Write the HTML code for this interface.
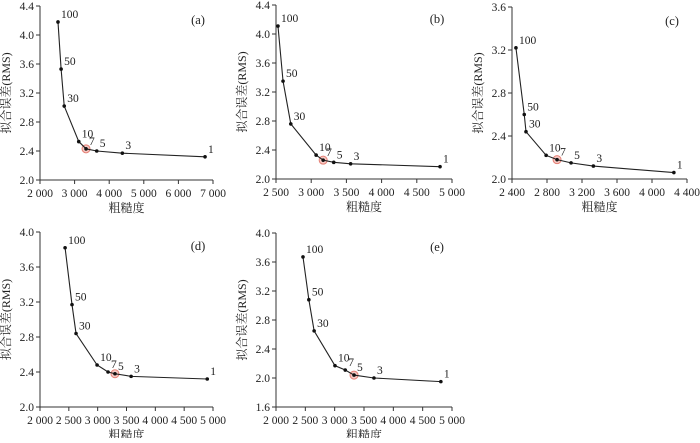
<!DOCTYPE html>
<html><head><meta charset="utf-8"><style>
body{margin:0;background:#fff}
svg text{font-family:"Liberation Serif","Noto Serif CJK SC",serif;fill:#222}
</style></head><body>
<svg id="c" width="700" height="438" xmlns="http://www.w3.org/2000/svg"></svg>
<script>
const pointLabels=["100","50","30","10","7","5","3","1"];
const xA=[2520,2610,2700,3120,3330,3640,4380,6770];
const yA=[4.18,3.53,3.02,2.53,2.43,2.40,2.37,2.32];
const xB=[2528,2600,2710,3070,3170,3320,3560,4830];
const yB=[4.11,3.35,2.76,2.33,2.26,2.23,2.21,2.17];
const xC=[2445,2540,2560,2790,2915,3075,3330,4250];
const yC=[3.22,2.60,2.44,2.22,2.18,2.15,2.12,2.06];
const xD=[2435,2555,2625,2990,3180,3300,3580,4900];
const yD=[3.82,3.17,2.84,2.48,2.40,2.38,2.35,2.32];
const xE=[2460,2560,2650,3005,3180,3330,3670,4810];
const yE=[3.67,3.08,2.65,2.17,2.11,2.04,2.00,1.95];
const xTicksA=[2000,3000,4000,5000,6000,7000];
const xTicksB=[2500,3000,3500,4000,4500,5000];
const xTicksC=[2400,2800,3200,3600,4000,4400];
const xTicksD=[2000,2500,3000,3500,4000,4500,5000];
const yTicksA=[2.0,2.4,2.8,3.2,3.6,4.0,4.4];
const yTicksC=[2.0,2.4,2.8,3.2,3.6];
const yTicksD=[2.0,2.4,2.8,3.2,3.6,4.0];
const yTicksE=[1.6,2.0,2.4,2.8,3.2,3.6,4.0];
const panels=[
 {id:"a",L:40,R:213,T:6,B:180,xs:xA,ys:yA,xt:xTicksA,yt:yTicksA,hi:4},
 {id:"b",L:276,R:452,T:5,B:179,xs:xB,ys:yB,xt:xTicksB,yt:yTicksA,hi:4},
 {id:"c",L:512,R:687,T:7,B:179,xs:xC,ys:yC,xt:xTicksC,yt:yTicksC,hi:4},
 {id:"d",L:40,R:213,T:232,B:407,xs:xD,ys:yD,xt:xTicksD,yt:yTicksD,hi:5},
 {id:"e",L:276,R:452,T:233,B:407,xs:xE,ys:yE,xt:xTicksD,yt:yTicksE,hi:5}
];
const svg=document.getElementById('c');
const NS="http://www.w3.org/2000/svg";
function mk(t,a,p){const e=document.createElementNS(NS,t);for(const k in a)e.setAttribute(k,a[k]);(p||svg).appendChild(e);return e;}
function fmt(v){return v>=1000?String(Math.floor(v/1000))+" "+String(v%1000).padStart(3,"0"):v.toFixed(1);}
panels.forEach(p=>{
 const g=mk('g',{});
 
 
 const x0=p.xt[0],x1=p.xt[p.xt.length-1],y0=p.yt[0],y1=p.yt[p.yt.length-1];
 const sx=v=>p.L+(v-x0)/(x1-x0)*(p.R-p.L);
 const sy=v=>p.B-(v-y0)/(y1-y0)*(p.B-p.T);
 const ax=mk('path',{d:`M${p.L},${p.T}V${p.B}H${p.R}`,stroke:'#333','stroke-width':1,fill:'none'},g);
 
 
 p.xt.forEach(v=>{const x=sx(v);mk('line',{x1:x,x2:x,y1:p.B,y2:p.B+4,stroke:'#333'},g);
  const t=mk('text',{x:x,y:p.B+17,'font-size':11.5,'text-anchor':'middle'},g);t.textContent=fmt(v);
  });
 p.yt.forEach(v=>{const y=sy(v);mk('line',{x1:p.L-4,x2:p.L,y1:y,y2:y,stroke:'#333'},g);
  const t=mk('text',{x:p.L-6,y:y+4,'font-size':11.5,'text-anchor':'end'},g);t.textContent=fmt(v);
  });
 const xt=mk('text',{x:(p.L+p.R)/2,y:p.B+32,'font-size':12,'text-anchor':'middle',fill:'#444'},g);xt.textContent="粗糙度";
 
 const cy=(p.T+p.B)/2,cx=p.L-30;
 const yt=mk('text',{x:cx,y:cy,'font-size':12,'text-anchor':'middle',transform:`rotate(-90 ${cx} ${cy})`,fill:'#444'},g);yt.textContent="拟合误差(RMS)";
 
 const pl=mk('text',{x:p.R-15,y:p.T+18,'font-size':12.5,'text-anchor':'middle'},g);pl.textContent="("+p.id+")";
 
 const hx=sx(p.xs[p.hi]),hy=sy(p.ys[p.hi]);
 const hc=mk('circle',{cx:hx,cy:hy,r:4,fill:'#f6c9c4',stroke:'#e57f74','stroke-width':1},g);
 
 const line=mk('polyline',{points:p.xs.map((v,i)=>sx(v)+','+sy(p.ys[i])).join(' '),fill:'none',stroke:'#222','stroke-width':1.1},g);
 
 p.xs.forEach((v,i)=>{const x=sx(v),y=sy(p.ys[i]);
  const c=mk('circle',{cx:x,cy:y,r:1.8,fill:'#111'},g);
  
  const t=mk('text',{x:x+3,y:y-4,'font-size':11.5},g);t.textContent=pointLabels[i];
  });
});
</script>
</body></html>
